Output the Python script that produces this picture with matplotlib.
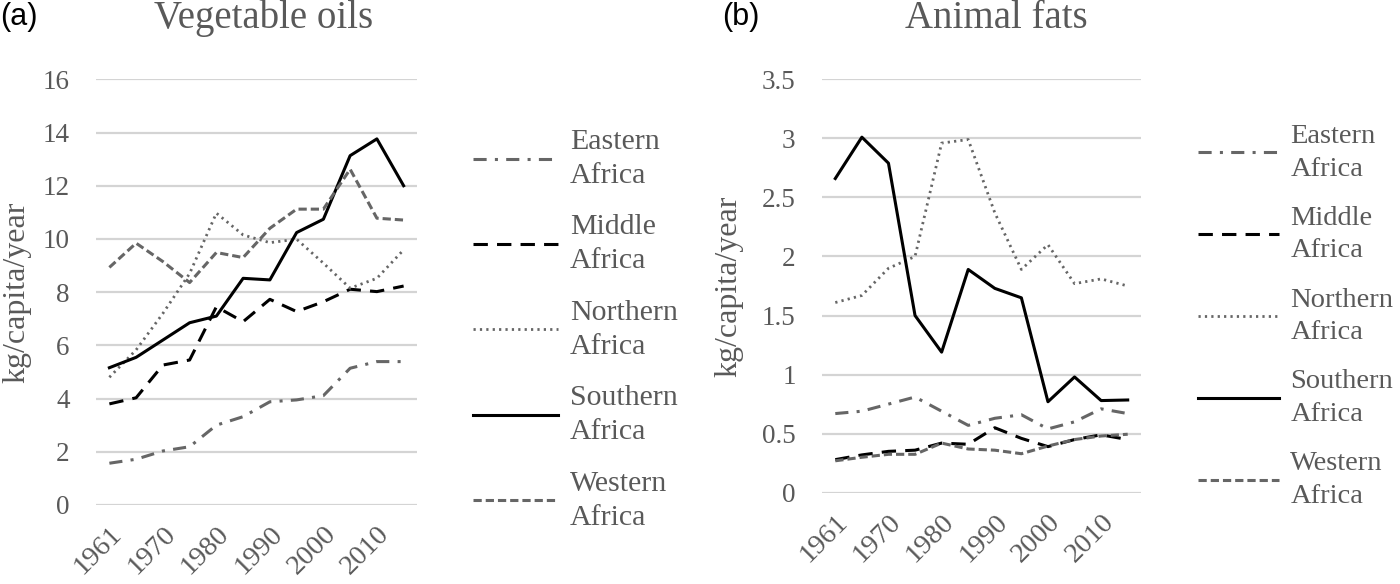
import matplotlib
matplotlib.use("Agg")
from matplotlib import pyplot as plt
import numpy as np

YEARS = [1961, 1965, 1970, 1975, 1980, 1985, 1990, 1995, 2000, 2005, 2010, 2013]
REGIONS = ["Eastern Africa", "Middle Africa", "Northern Africa", "Southern Africa", "Western Africa"]

# vegetable oils, kg/capita/year
VEG_EASTERN = [1.57, 1.72, 2.03, 2.19, 3.0, 3.32, 3.88, 3.95, 4.11, 5.14, 5.39, 5.39]
VEG_MIDDLE = [3.8, 4.03, 5.26, 5.45, 7.45, 6.89, 7.73, 7.27, 7.64, 8.11, 8.02, 8.23]
VEG_NORTHERN = [4.8, 5.83, 7.2, 8.7, 10.97, 10.15, 9.86, 9.99, 9.09, 8.15, 8.52, 9.59]
VEG_SOUTHERN = [5.16, 5.55, 6.2, 6.85, 7.1, 8.52, 8.46, 10.24, 10.74, 13.13, 13.76, 12.0]
VEG_WESTERN = [8.93, 9.84, 9.15, 8.36, 9.49, 9.3, 10.4, 11.12, 11.12, 12.62, 10.78, 10.71]

# animal fats, kg/capita/year
FAT_EASTERN = [0.67, 0.69, 0.75, 0.81, 0.69, 0.57, 0.63, 0.66, 0.54, 0.60, 0.71, 0.67]
FAT_MIDDLE = [0.28, 0.32, 0.35, 0.36, 0.42, 0.41, 0.55, 0.46, 0.39, 0.45, 0.49, 0.45]
FAT_NORTHERN = [1.61, 1.67, 1.90, 2.0, 2.96, 2.99, 2.37, 1.89, 2.10, 1.77, 1.81, 1.75]
FAT_SOUTHERN = [2.66, 3.01, 2.79, 1.50, 1.19, 1.89, 1.73, 1.65, 0.77, 0.98, 0.78, 0.785]
FAT_WESTERN = [0.27, 0.30, 0.325, 0.325, 0.42, 0.37, 0.36, 0.33, 0.395, 0.45, 0.48, 0.495]

GREY = "#666666"
TEXT = "#595959"
STYLES = [
    dict(color=GREY, linestyle=(0, (4.3, 2.7, 1, 2.7)), lw=2.2),
    dict(color="black", linestyle=(0, (4.7, 3)), lw=2.2),
    dict(color=GREY, linestyle=(0, (0.8, 1.5)), lw=2.0),
    dict(color="black", linestyle="-", lw=2.2),
    dict(color=GREY, linestyle=(0, (2.7, 1.3)), lw=2.2),
]

SERIF = ["Liberation Serif", "DejaVu Serif"]
W, H = 1400, 584


def fx(px):
    return px / W


def fy(px):
    return 1 - px / H


def panel(fig, rect, series, ymax, ystep, title, letter, letter_x, title_x,
          ylab_x, legend_xy, legend_size):
    ax = fig.add_axes(rect)
    x = np.arange(len(YEARS))
    for vals, style, name in zip(series, STYLES, REGIONS):
        ax.plot(x, vals, label=name.replace(" ", "\n"), **style)
    ax.set_xlim(-0.5, len(YEARS) - 0.5)
    ax.set_ylim(0, ymax)
    ticks = np.arange(0, ymax + ystep / 2, ystep)
    ax.set_yticks(ticks)
    ax.set_yticklabels(["{:g}".format(t) for t in ticks])
    ax.set_xticks(x[::2])
    ax.set_xticklabels([str(y) for y in YEARS[::2]], rotation=45, ha="right",
                       rotation_mode="anchor")
    ax.grid(axis="y", color="#d4d4d4", lw=1.6)
    ax.set_axisbelow(True)
    for s in ax.spines.values():
        s.set_visible(False)
    ax.tick_params(length=0, colors=TEXT)
    ax.tick_params(axis="y", pad=19, labelsize=19.5)
    ax.tick_params(axis="x", pad=12, labelsize=20.5)
    for lbl in ax.get_xticklabels() + ax.get_yticklabels():
        lbl.set_family(SERIF)

    ymid = 1 - (rect[1] + rect[3] / 2)
    fig.text(fx(ylab_x), fy(ymid * H), "kg/capita/year", rotation=90, fontsize=23,
             color=TEXT, family=SERIF, ha="right", va="center")
    fig.text(fx(title_x), fy(28), title, fontsize=28, color=TEXT, family=SERIF,
             ha="center", va="baseline")
    fig.text(fx(letter_x), fy(25), letter, fontsize=22, color="black",
             family=["Liberation Sans", "DejaVu Sans"], ha="left", va="baseline")

    leg = fig.legend(*ax.get_legend_handles_labels(), loc="upper left",
                     bbox_to_anchor=(fx(legend_xy[0]), fy(legend_xy[1])),
                     bbox_transform=fig.transFigure, frameon=False,
                     handlelength=2.84, labelspacing=0.85, handletextpad=0.4,
                     prop={"family": SERIF, "size": legend_size}, borderaxespad=0,
                     borderpad=0)
    for t in leg.get_texts():
        t.set_color(TEXT)
        t.set_linespacing(1.4)
    return ax


fig = plt.figure(figsize=(W / 100, H / 100), dpi=100)
panel(fig, [fx(96), fy(505), fx(417 - 96), (505 - 79.3) / H],
      [VEG_EASTERN, VEG_MIDDLE, VEG_NORTHERN, VEG_SOUTHERN, VEG_WESTERN],
      16, 2, "Vegetable oils", "(a)", 0, 264, 31, (473, 129), 21.5)
panel(fig, [fx(822), fy(492.7), fx(1141 - 822), (492.7 - 79.3) / H],
      [FAT_EASTERN, FAT_MIDDLE, FAT_NORTHERN, FAT_SOUTHERN, FAT_WESTERN],
      3.5, 0.5, "Animal fats", "(b)", 722, 996, 743, (1198, 124), 20.5)
fig.savefig("out.png", dpi=100)
